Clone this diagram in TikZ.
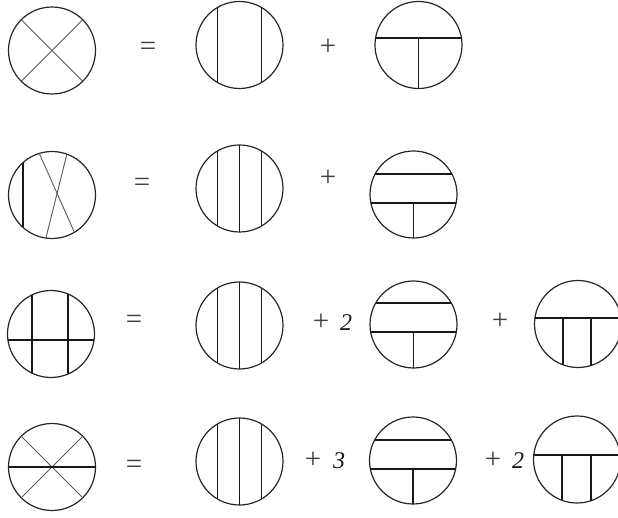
\documentclass[tikz,border=0pt]{standalone}
\usepackage{fontspec}
\setmainfont{Liberation Serif}
\begin{document}
\begin{tikzpicture}[x=1pt,y=-1pt,
  circ/.style={line width=1.2pt,black!85},
  chord/.style={line width=1.1pt,black!90},
  xline/.style={line width=0.9pt,black!65},
  op/.style={font=\fontsize{29}{29}\selectfont,text=black!75,inner sep=0pt},
  coef/.style={font=\fontsize{24}{24}\selectfont\itshape,text=black!90,inner sep=0pt}]
\useasboundingbox (0,0) rectangle (618,518);
\def\R{43.5}
\newcommand{\vchord}[1]{\draw[chord] ({#1},{-sqrt(\R*\R-(#1)*(#1))}) -- ({#1},{sqrt(\R*\R-(#1)*(#1))});}
\newcommand{\hchord}[1]{\draw[chord] ({-sqrt(\R*\R-(#1)*(#1))},{#1}) -- ({sqrt(\R*\R-(#1)*(#1))},{#1});}
\newcommand{\vhalf}[2]{\draw[chord] (#1,#2) -- ({#1},{sqrt(\R*\R-(#1)*(#1))});}
\newcommand{\ring}{\draw[circ] (0,0) circle[radius=\R];}
% ---------- Row 1 ----------
\begin{scope}[shift={(52,50.5)}]
  \ring \draw[xline] (225:\R) -- (45:\R); \draw[xline] (135:\R) -- (315:\R);
\end{scope}
\node[op] (eq1) at (148,49) {=};
\begin{scope}[shift={(239.5,45)}]
  \ring \vchord{-22} \vchord{22}
\end{scope}
\node[op] (p1) at (328,47) {+};
\begin{scope}[shift={(418.5,45)}]
  \ring \hchord{-7} \vhalf{0}{-7}
\end{scope}
% ---------- Row 2 ----------
\begin{scope}[shift={(52,195)}]
  \ring \vchord{-29}
  \draw[xline] (-107:\R) -- (59:\R); \draw[xline] (-70:\R) -- (98:\R);
\end{scope}
\node[op] (eq2) at (142,185) {=};
\begin{scope}[shift={(239.5,188.5)}]
  \ring \vchord{-22} \vchord{0} \vchord{22}
\end{scope}
\node[op] (p2) at (328,178) {+};
\begin{scope}[shift={(413.5,194.5)}]
  \ring \hchord{-20.5} \hchord{8.5} \vhalf{0}{8.5}
\end{scope}
% ---------- Row 3 ----------
\begin{scope}[shift={(51,334)}]
  \ring \hchord{6} \vchord{-19} \vchord{17}
\end{scope}
\node[op] (eq3) at (134,322) {=};
\begin{scope}[shift={(239.5,325.5)}]
  \ring \vchord{-22} \vchord{0} \vchord{22}
\end{scope}
\node[op] (p3a) at (321,322) {+};
\node[coef] (c3a) at (346,323) {2};
\begin{scope}[shift={(413.5,324.5)}]
  \ring \hchord{-21.5} \hchord{7.5} \vhalf{0}{7.5}
\end{scope}
\node[op] (p3b) at (500,321) {+};
\begin{scope}[shift={(578,324)}]
  \ring \hchord{-6} \vhalf{-15}{-6} \vhalf{13}{-6}
\end{scope}
% ---------- Row 4 ----------
\begin{scope}[shift={(52,467)}]
  \ring \draw[xline] (225:\R) -- (45:\R); \draw[xline] (135:\R) -- (315:\R);
  \hchord{0}
\end{scope}
\node[op] (eq4) at (134,467) {=};
\begin{scope}[shift={(239.5,461.5)}]
  \ring \vchord{-22} \vchord{0} \vchord{22}
\end{scope}
\node[op] (p4a) at (313,460) {+};
\node[coef] (c4a) at (339,461) {3};
\begin{scope}[shift={(413,460.5)}]
  \ring \hchord{-20.5} \hchord{8.5} \vhalf{0}{8.5}
\end{scope}
\node[op] (p4b) at (493,460) {+};
\node[coef] (c4b) at (518,461) {2};
\begin{scope}[shift={(577,459.5)}]
  \ring \hchord{-4.5} \vhalf{-15}{-4.5} \vhalf{14}{-4.5}
\end{scope}
\end{tikzpicture}
\end{document}
